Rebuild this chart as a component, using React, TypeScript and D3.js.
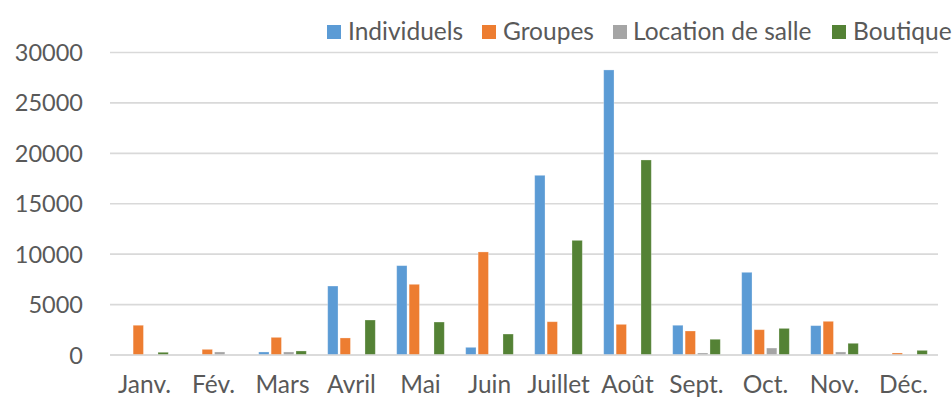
import React from "react";
import * as d3 from "d3";

const months = ["Janv.", "Fév.", "Mars", "Avril", "Mai", "Juin", "Juillet", "Août", "Sept.", "Oct.", "Nov.", "Déc."];
const seriesNames = ["Individuels", "Groupes", "Location de salle", "Boutique"];
const individuels = [0, 0, 300, 6840, 8860, 760, 17820, 28270, 2950, 8200, 2910, 0];
const groupes = [2950, 560, 1750, 1690, 7010, 10220, 3300, 3040, 2380, 2510, 3340, 200];
const locationSalle = [0, 300, 300, 0, 0, 0, 0, 0, 200, 690, 300, 0];
const boutique = [270, 0, 400, 3470, 3270, 2080, 11370, 19340, 1560, 2640, 1160, 460];
const yTicks = [0, 5000, 10000, 15000, 20000, 25000, 30000];
const colors = ["#5B9BD5", "#ED7D31", "#A5A5A5", "#548235"];

const W = 952;
const H = 400;
const FONT = "Lato, 'Open Sans', sans-serif";
const TXT = "#595959";

export default function App() {
  const series = [individuels, groupes, locationSalle, boutique];
  const x = d3.scaleBand<string>().domain(months).range([110, 938]).paddingInner(0).paddingOuter(0);
  const y = d3.scaleLinear().domain([0, 30000]).range([355, 52.5]);
  const bw = x.bandwidth();
  const inner = d3.scaleBand<number>().domain([0, 1, 2, 3]).range([bw * 0.155, bw * 0.845]).paddingInner(0.17).paddingOuter(0);

  const legendSq = [327, 482, 613, 832];
  const legendTx = [348, 503, 633, 853];

  return (
    <svg width={W} height={H} style={{ position: "absolute", left: 0, top: 0, background: "#fff" }}>
      <rect x={0} y={0} width={W} height={H} fill="#fff" />
      {yTicks.map((t) => (
        <g key={t}>
          <line x1={110} x2={938} y1={y(t)} y2={y(t)} stroke="#D9D9D9" strokeWidth={1.6} />
          <text x={83} y={y(t) + 8.5} textAnchor="end" fontFamily={FONT} fontSize={23.5} fill={TXT}>
            {t}
          </text>
        </g>
      ))}
      {series.map((vals, si) => (
        <g key={si}>
          {vals.map((v, mi) =>
            v > 0 ? (
              <rect
                key={mi}
                x={(x(months[mi]) as number) + (inner(si) as number)}
                y={y(v)}
                width={inner.bandwidth()}
                height={y(0) - y(v)}
                fill={colors[si]}
                stroke="#fff"
                strokeOpacity={0.35}
                strokeWidth={0.8}
              />
            ) : null
          )}
        </g>
      ))}
      <line x1={110} x2={938} y1={y(0)} y2={y(0)} stroke="#D9D9D9" strokeWidth={1.6} />
      {months.map((m) => (
        <text key={m} x={(x(m) as number) + bw / 2} y={393} textAnchor="middle" fontFamily={FONT} fontSize={24.5} fill={TXT}>
          {m}
        </text>
      ))}
      {seriesNames.map((n, i) => (
        <g key={n}>
          <rect x={legendSq[i]} y={25} width={14} height={14} fill={colors[i]} />
          <text x={legendTx[i]} y={40} fontFamily={FONT} fontSize={24.5} fill={TXT}>
            {n}
          </text>
        </g>
      ))}
    </svg>
  );
}
